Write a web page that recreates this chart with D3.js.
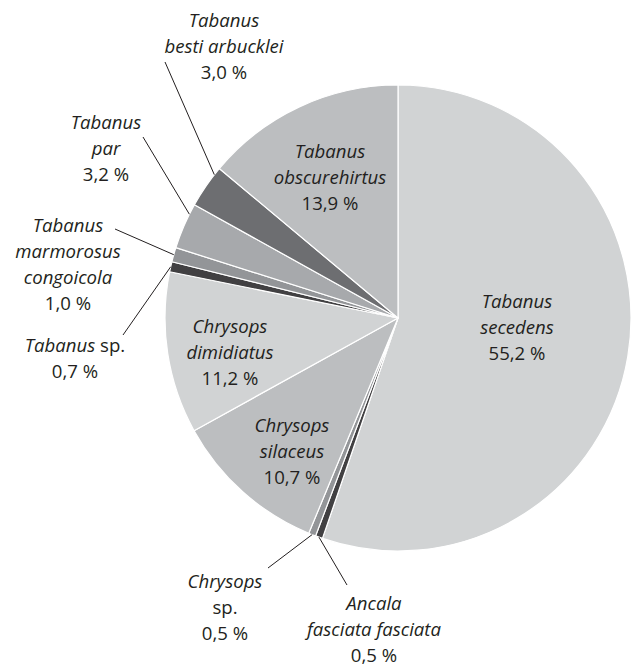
<!DOCTYPE html>
<html>
<head>
<meta charset="utf-8">
<title>Tabanidae species share</title>
<script src="https://cdn.jsdelivr.net/npm/d3@7"></script>
<style>
  body { margin: 0; background: #fff; }
  text { font-family: "Open Sans", sans-serif; font-size: 18.6px; fill: #231f20; }
  .sp { font-style: italic; }
</style>
</head>
<body>
<script>
// data, clockwise from 12 o'clock
var species = [
  ["Tabanus", "secedens"],
  ["Ancala", "fasciata fasciata"],
  ["Chrysops", "sp."],
  ["Chrysops", "silaceus"],
  ["Chrysops", "dimidiatus"],
  ["Tabanus sp."],
  ["Tabanus", "marmorosus", "congoicola"],
  ["Tabanus", "par"],
  ["Tabanus", "besti arbucklei"],
  ["Tabanus", "obscurehirtus"]
];
var shares = [55.2, 0.5, 0.5, 10.7, 11.2, 0.7, 1.0, 3.2, 3.0, 13.9];
var pctLabels = ["55,2 %", "0,5 %", "0,5 %", "10,7 %", "11,2 %", "0,7 %", "1,0 %", "3,2 %", "3,0 %", "13,9 %"];
var colors = ["#d1d3d4", "#414042", "#939598", "#bcbec0", "#d1d3d4",
              "#414042", "#939598", "#a7a9ac", "#6d6e71", "#bcbec0"];

// label layout: text centre x, first baseline y, leader end (or null), where on the arc the leader starts
var labelPos = [
  {x: 517, y: 308, lead: null},
  {x: 374, y: 610, lead: [347, 585], t: 0.5},
  {x: 225, y: 588, lead: [268, 568], t: 0.5},
  {x: 292, y: 432, lead: null},
  {x: 230, y: 333, lead: null},
  {x: 75,  y: 352, lead: [123, 335], t: 0.5},
  {x: 68,  y: 232, lead: [115, 229], t: 0.5},
  {x: 106, y: 129, lead: [143, 137], t: 0.77},
  {x: 224, y: 27,  lead: [165, 62],  t: 0.82},
  {x: 330, y: 158, lead: null}
];

var width = 632, height = 666,
    cx = 398, cy = 318, radius = 233, lineH = 26;

var svg = d3.select("body").append("svg")
  .attr("width", width)
  .attr("height", height);

var pie = d3.pie().sort(null).value(function(d) { return d; });
var arcs = pie(shares);
var arc = d3.arc().innerRadius(0).outerRadius(radius);

var g = svg.append("g").attr("transform", "translate(" + cx + "," + cy + ")");

g.selectAll("path")
  .data(arcs)
  .enter().append("path")
  .attr("d", arc)
  .attr("fill", function(d, i) { return colors[i]; })
  .attr("stroke", "#fff")
  .attr("stroke-width", 1.2)
  .attr("stroke-linejoin", "round");

// leader lines
arcs.forEach(function(a, i) {
  var p = labelPos[i];
  if (!p.lead) return;
  var ang = a.startAngle + (a.endAngle - a.startAngle) * p.t;
  var x0 = cx + radius * Math.sin(ang), y0 = cy - radius * Math.cos(ang);
  svg.append("line")
    .attr("x1", x0).attr("y1", y0)
    .attr("x2", p.lead[0]).attr("y2", p.lead[1])
    .attr("stroke", "#231f20")
    .attr("stroke-width", 1);
});

// labels
species.forEach(function(lines, i) {
  var p = labelPos[i];
  var t = svg.append("text")
    .attr("text-anchor", "middle")
    .attr("x", p.x).attr("y", p.y);
  lines.forEach(function(s, k) {
    var ts = t.append("tspan").attr("x", p.x).attr("dy", k == 0 ? 0 : lineH);
    if (s == "Tabanus sp.") {
      ts.append("tspan").attr("class", "sp").text("Tabanus");
      ts.append("tspan").text(" sp.");
    } else if (s == "sp.") {
      ts.text(s);
    } else {
      ts.attr("class", "sp").text(s);
    }
  });
  t.append("tspan").attr("x", p.x).attr("dy", lineH).text(pctLabels[i]);
});
</script>
</body>
</html>
